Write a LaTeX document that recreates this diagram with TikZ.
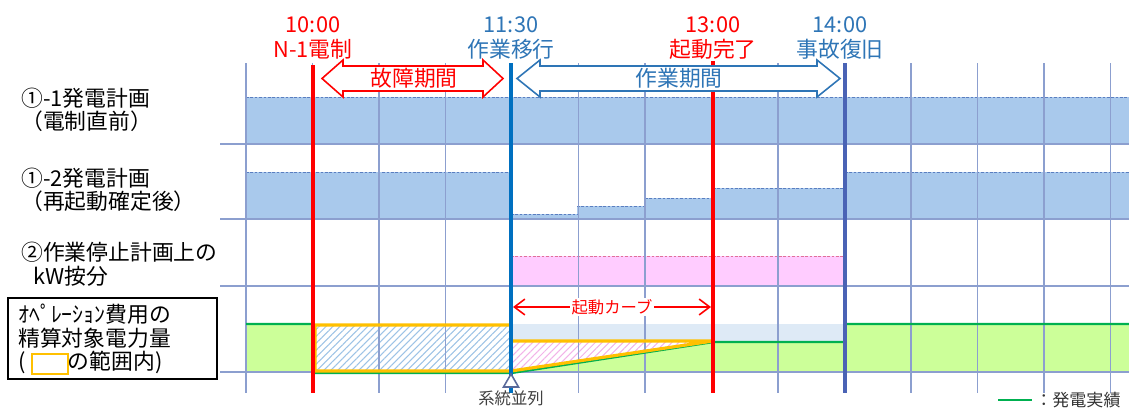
\documentclass[tikz,border=0pt]{standalone}
\usepackage{fontspec}
\setmainfont{Noto Sans CJK JP}
\usetikzlibrary{patterns.meta,arrows.meta}

\definecolor{bandblue}{HTML}{A9C9EC}
\definecolor{bandedge}{HTML}{5A7EC0}
\definecolor{gridcol}{HTML}{8C9FCF}
\definecolor{pinkfill}{HTML}{FFCCFF}
\definecolor{pinkedge}{HTML}{E0709A}
\definecolor{greenfill}{HTML}{CCFF99}
\definecolor{greenline}{HTML}{00B050}
\definecolor{orangeline}{HTML}{FFC000}
\definecolor{paleblue}{HTML}{DEEAF6}
\definecolor{hatchblue}{HTML}{9DC3E6}
\definecolor{hatchpink}{HTML}{F2B3E8}
\definecolor{timeblue}{HTML}{0070C0}
\definecolor{textblue}{HTML}{2E75B6}
\definecolor{restoreblue}{HTML}{4A63B5}
\definecolor{markgray}{HTML}{5A6A9A}

\newcommand{\lblfont}{\fontsize{12.4pt}{13.4pt}\selectfont}
\newcommand{\smlfont}{\fontsize{9.3pt}{10pt}\selectfont}

\tikzset{
	gridline/.style={draw=gridcol, line width=0.6pt},
	dashtop/.style={draw=bandedge, line width=0.5pt, dash pattern=on 1.5pt off 1pt},
	timeline/.style={line width=1.9pt},
	rowlabel/.style={anchor=west, align=left, inner sep=0pt, font=\lblfont},
	timelabel/.style={align=center, inner sep=0pt, font=\fontsize{12.4pt}{14pt}\selectfont},
	hatch/.style={pattern={Lines[angle=45,distance=2.8pt,line width=0.6pt]}},
	blockarrow/.style={fill=white, line width=0.9pt}
}

\begin{document}
\begin{tikzpicture}[x=0.02cm, y=-0.02cm]
	\useasboundingbox (0,0) rectangle (1129,409);

	% row bands
	\fill[bandblue] (246,97) rectangle (1129,144);
	\draw[dashtop] (246,97) -- (1129,97);

	\fill[bandblue] (246,172) -| (511,214) -| (577,206) -| (645,198) -| (713,188) -| (845,172) -| (1129,219) -- (246,219) -- cycle;
	\draw[dashtop] (246,172) -- (511,172) (511,214) -- (577,214) (577,206) -- (645,206)
		(645,198) -- (713,198) (713,188) -- (845,188) (845,172) -- (1129,172);

	\fill[pinkfill] (511,256) rectangle (845,286);
	\draw[dashtop, draw=pinkedge] (511,256) -- (845,256);

	\fill[greenfill] (246,324) rectangle (313,372);
	\fill[white] (313,324) rectangle (511,372);
	\fill[hatch, pattern color=hatchblue] (313,324) rectangle (511,372);
	\fill[paleblue] (511,324) rectangle (845,341);
	\fill[hatch, pattern color=hatchpink] (511,341) -- (713,341) -- (511,372) -- cycle;
	\fill[greenfill] (511,372) -- (713,341) -- (845,341) -- (845,324) -- (1129,324) -- (1129,372) -- cycle;

	% grid
	\foreach \k in {0,...,13}
		\draw[gridline] (246+66.5*\k,63) -- (246+66.5*\k,393);
	\foreach \y in {144,219,286,372}
		\draw[gridline] (220,\y) -- (1129,\y);

	% result and settlement area
	\draw[greenline, line width=1.4pt] (246,324) -- (313,324) -- (313,373) -- (511,373) -- (713,342) -- (845,342) -- (845,324) -- (1129,324);
	\draw[orangeline, line width=1.8pt, line join=miter] (315,325) -- (511,325) -- (511,341) -- (713,341) -- (511,371) -- (315,371) -- cycle;

	% time lines
	\draw[timeline, red] (313,65) -- (313,393);
	\draw[timeline, timeblue] (511,63) -- (511,393);
	\draw[timeline, red] (713,61) -- (713,393);
	\draw[timeline, restoreblue, line width=2.3pt] (845,63) -- (845,393);

	\node (t1000)[timelabel, text=red] at (313,38) {10:00\\N-1電制};
	\node (t1130)[timelabel, text=textblue] at (511,38) {11:30\\作業移行};
	\node (t1300)[timelabel, text=red] at (713,38) {13:00\\起動完了};
	\node (t1400)[timelabel, text=textblue] at (840,38) {14:00\\事故復旧};

	% period arrows
	\draw[blockarrow, draw=red] (322,78.5) -- (343,60) -- (343,66) -- (483,66) -- (483,60) -- (503,78.5)
		-- (483,97) -- (483,91) -- (343,91) -- (343,97) -- cycle;
	\node (fault)[text=red, font=\lblfont, inner sep=0pt] at (414,78.5) {故障期間};
	\draw[blockarrow, draw=textblue] (517,78.5) -- (540,60) -- (540,66) -- (817,66) -- (817,60) -- (840,78.5)
		-- (817,97) -- (817,91) -- (540,91) -- (540,97) -- cycle;
	\node (work)[text=textblue, font=\lblfont, inner sep=0pt] at (679,78.5) {作業期間};

	% start curve
	\coordinate (cs) at (513,307);
	\coordinate (ce) at (711,307);
	\draw[red, line width=0.9pt, {Straight Barb[length=6pt,width=9pt]}-{Straight Barb[length=6pt,width=9pt]}] (cs) -- (ce);
	\node (curve)[fill=white, text=red, font=\smlfont, inner sep=1pt] at (612,307) {起動カーブ};

	% parallel mark
	\draw[markgray, fill=white, line width=0.9pt] (511,374) -- (518.5,387) -- (503.5,387) -- cycle;
	\node (parallel)[text=black!75, font=\smlfont, inner sep=0pt] at (511,398) {系統並列};

	% row labels
	\node (plan1)[rowlabel] at (21,110) {①-1発電計画\\（電制直前）};
	\node (plan2)[rowlabel] at (21,190) {①-2発電計画\\（再起動確定後）};
	\node (stop)[rowlabel] at (21,264) {②作業停止計画上の\\\hspace*{7pt}kW按分};

	\draw[black, line width=1.7pt] (8,298) rectangle (217,379);
	\node (optext)[rowlabel] at (18,339) {ｵﾍﾟﾚｰｼｮﾝ費用の\\精算対象電力量\\(\hspace{24pt}の範囲内)};
	\draw[orangeline, line width=1.4pt] (32,354) rectangle (68,374);

	% legend
	\draw[greenline, line width=1.4pt] (998,400) -- (1032,400);
	\node (legend)[anchor=west, inner sep=0pt, font=\fontsize{9.7pt}{10pt}\selectfont, text=black!80] at (1035,400) {：発電実績};
\end{tikzpicture}
\end{document}
